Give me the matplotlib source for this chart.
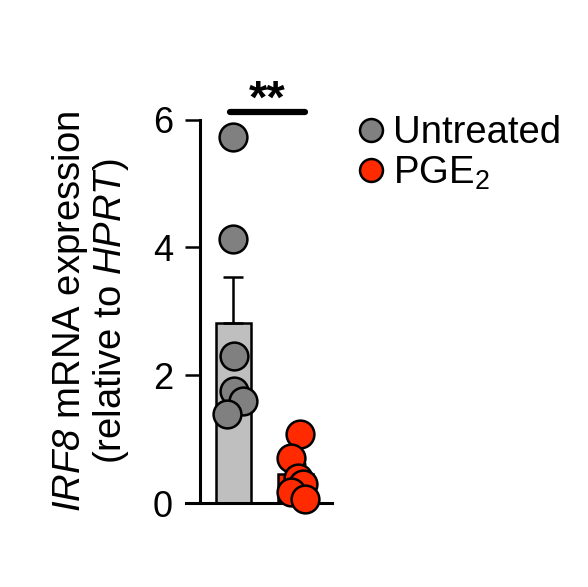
import numpy as np
import matplotlib.pyplot as plt
from matplotlib.lines import Line2D

plt.rcParams['font.family'] = 'Liberation Sans'
plt.rcParams['mathtext.fontset'] = 'custom'
# rm is italic so the digit in IRF8 comes out slanted; sf stays upright
plt.rcParams['mathtext.rm'] = 'Liberation Sans:italic'
plt.rcParams['mathtext.it'] = 'Liberation Sans:italic'
plt.rcParams['mathtext.sf'] = 'Liberation Sans'

# andmed
groepid = ["Untreated", "PGE$_\\mathsf{2}$"]
untreated = [5.73, 4.13, 2.31, 1.76, 1.60, 1.40]
pge2 = [1.08, 0.71, 0.40, 0.30, 0.18, 0.06]
yticks = [0, 2, 4, 6]

# punktide x-nihe (pildilt)
jit_untr = [0.0, 0.0, 0.01, 0.01, 0.15, -0.10]
jit_pge = [0.07, -0.08, 0.03, 0.12, -0.08, 0.15]

varvid = ["#bfbfbf", "#ff2a00"]
punkt_varvid = ["#808080", "#ff2a00"]

andmed = [np.array(untreated), np.array(pge2)]
keskmised = [d.mean() for d in andmed]
sem = [d.std(ddof=1) / np.sqrt(len(d)) for d in andmed]

fig = plt.figure(figsize=(5.88, 5.87), dpi=100)
ax = fig.add_axes([186 / 588, 83.7 / 587, 146 / 588, 383.8 / 587])

xpos = [0, 1]
ax.bar(xpos, keskmised, width=0.56, color=varvid, edgecolor="black", linewidth=1.8, zorder=1)
for x, m, s in zip(xpos, keskmised, sem):
    ax.errorbar(x, m, yerr=[[0], [s]], color="black", capsize=7, elinewidth=1.8,
                capthick=1.8, zorder=2)

for x, d, j, c in zip(xpos, andmed, [jit_untr, jit_pge], punkt_varvid):
    ax.scatter(x + np.array(j), d, s=400, color=c, edgecolor="black", linewidth=1.8,
               zorder=3, clip_on=False)

# olulisus
ax.plot([-0.05, 1.15], [6.11, 6.11], color="black", lw=4.5, solid_capstyle="round", clip_on=False)
ax.text(0.55, 6.11, "**", ha="center", va="baseline", fontsize=34, fontweight="bold")

ax.set_xlim(-0.76, 1.58)
ax.set_ylim(0, 6)
ax.spines[["top", "right"]].set_visible(False)
ax.spines["left"].set_position(("data", -0.536))
ax.spines["left"].set_bounds(0, 6)
ax.spines["left"].set_linewidth(2.2)
ax.spines["bottom"].set_linewidth(2.2)
ax.set_xticks([])
ax.set_yticks(yticks)
ax.tick_params(axis="y", labelsize=26, length=11, width=1.8, pad=8.5)

ax.set_ylabel("$\\mathit{IRF8}$ mRNA expression\n(relative to $\\mathit{HPRT}$)",
              fontsize=27.5, linespacing=1.05)
ax.yaxis.set_label_coords(-0.375, 0.5)

kasitsed = [Line2D([], [], marker="o", ls="none", markersize=16.5, markerfacecolor=c,
                   markeredgecolor="black", markeredgewidth=1.8) for c in punkt_varvid]
fig.legend(kasitsed, groepid, loc="upper left", bbox_to_anchor=(356 / 588, 1 - 115 / 587),
           frameon=False, fontsize=27.5, handlelength=0.8, handletextpad=0.16,
           labelspacing=0.1, borderpad=0, borderaxespad=0)

plt.savefig("out.png", dpi=100)
